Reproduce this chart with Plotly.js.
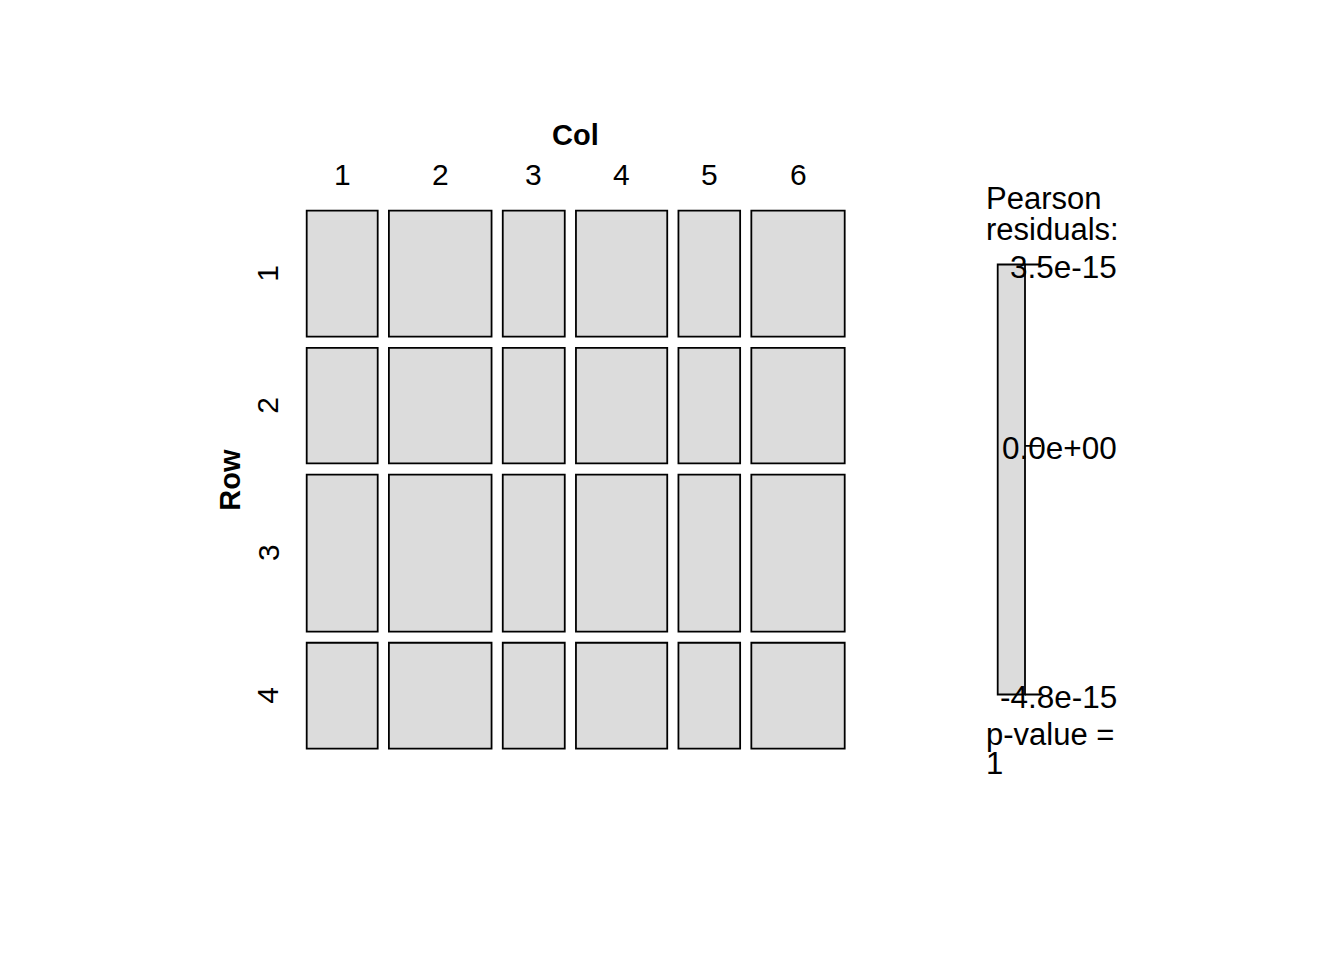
<!DOCTYPE html>
<html>
<head>
<meta charset="utf-8">
<script src="https://cdn.plot.ly/plotly-3.0.1.min.js"></script>
<style>html,body{margin:0;padding:0;background:#fff;}</style>
</head>
<body>
<div id="chart" style="width:1344px;height:960px;"></div>
<script>
// ---- data ----
const colLabels = ['1', '2', '3', '4', '5', '6'];
const rowLabels = ['1', '2', '3', '4'];
const colShare = [14.73, 21.30, 12.86, 18.94, 12.80, 19.37];   // % of total (column margin)
const rowShare = [24.97, 22.91, 31.11, 21.01];                 // % of total (row margin)
const residualMin = -4.8e-15;
const residualMax = 3.5e-15;
const legendTickValues = [3.5e-15, 0, -4.8e-15];
const legendTickText = ['3.5e-15', '0.0e+00', '-4.8e-15'];
const pValue = 1;

// ---- layout constants (pixels) ----
const W = 1344, H = 960;
const plotL = 306.7, plotR = 844.7, plotT = 210.7, plotB = 748.7;
const gapPx = 11.2, padPx = 8;
const legL = 997.7, legR = 1025, legT = 264.5, legB = 694.5;
const fontFam = 'Liberation Sans, Arial, Helvetica, sans-serif';
const cellFill = '#dcdcdc';
const lineW = 1.8;

const nC = colShare.length, nR = rowShare.length;
const sumC = colShare.reduce((a, b) => a + b, 0);
const sumR = rowShare.reduce((a, b) => a + b, 0);
const pxPerX = ((plotR - plotL) - (nC - 1) * gapPx) / sumC;
const pxPerY = ((plotB - plotT) - (nR - 1) * gapPx) / sumR;
const gx = gapPx / pxPerX, gy = gapPx / pxPerY;
const totX = sumC + (nC - 1) * gx, totY = sumR + (nR - 1) * gy;
const padX = padPx / pxPerX, padY = padPx / pxPerY;

// positions
const colStart = [], rowStart = [];
let acc = 0;
colShare.forEach((v, j) => { colStart.push(acc + j * gx); acc += v; });
acc = 0;
rowShare.forEach((v, i) => { rowStart.push(acc + i * gy); acc += v; });

const shapes = [];
for (let i = 0; i < nR; i++) {
  for (let j = 0; j < nC; j++) {
    shapes.push({
      type: 'rect', xref: 'x', yref: 'y', layer: 'above',
      x0: colStart[j], x1: colStart[j] + colShare[j],
      y0: rowStart[i], y1: rowStart[i] + rowShare[i],
      fillcolor: cellFill, line: { color: '#000', width: lineW }
    });
  }
}

// legend axis mapping
const legPadPx = 10;
const resSpan = residualMax - residualMin;
const resPerPx = resSpan / (legB - legT);
const y2Range = [residualMin - legPadPx * resPerPx, residualMax + legPadPx * resPerPx];
const legW = legR - legL;
const x2Lpx = legL - 8, x2Rpx = 1050;
const x2Range = [(x2Lpx - legL) / legW, (x2Rpx - legL) / legW];
const tickEnd = (1041 - legL) / legW;

shapes.push({
  type: 'rect', xref: 'x2', yref: 'y2', layer: 'above',
  x0: 0, x1: 1, y0: residualMin, y1: residualMax,
  fillcolor: cellFill, line: { color: '#000', width: lineW }
});
legendTickValues.forEach(v => {
  shapes.push({
    type: 'line', xref: 'x2', yref: 'y2', layer: 'above',
    x0: 1, x1: tickEnd, y0: v, y1: v,
    line: { color: '#000', width: lineW }
  });
});

const py = p => (H - p) / H;
const px = p => p / W;

const annotations = [];
colLabels.forEach((lab, j) => {
  annotations.push({
    text: lab, xref: 'x', yref: 'paper', x: colStart[j] + colShare[j] / 2, y: py(174),
    xanchor: 'center', yanchor: 'middle', showarrow: false, font: { size: 30, color: '#000' }
  });
});
rowLabels.forEach((lab, i) => {
  annotations.push({
    text: lab, xref: 'paper', yref: 'y', x: px(268), y: rowStart[i] + rowShare[i] / 2,
    xanchor: 'center', yanchor: 'middle', textangle: -90, showarrow: false, font: { size: 30, color: '#000' }
  });
});
annotations.push({
  text: '<b>Col</b>', xref: 'paper', yref: 'paper', x: px((plotL + plotR) / 2), y: py(135),
  xanchor: 'center', yanchor: 'middle', showarrow: false, font: { size: 29, color: '#000' }
});
annotations.push({
  text: '<b>Row</b>', xref: 'paper', yref: 'paper', x: px(230), y: py((plotT + plotB) / 2),
  xanchor: 'center', yanchor: 'middle', textangle: -90, showarrow: false, font: { size: 29, color: '#000' }
});
const legText = [['Pearson', 198.5], ['residuals:', 229.5], ['p-value =', 734], [String(pValue), 763]];
legText.forEach(([t, yy]) => {
  annotations.push({
    text: t, xref: 'paper', yref: 'paper', x: px(985), y: py(yy), borderpad: 0,
    xanchor: 'left', yanchor: 'middle', showarrow: false, font: { size: 31, color: '#000' }
  });
});
legendTickValues.forEach((v, k) => {
  annotations.push({
    text: legendTickText[k], xref: 'paper', yref: 'y2', x: px(1118), y: v, borderpad: 0, yshift: -2.5,
    xanchor: 'right', yanchor: 'middle', showarrow: false, font: { size: 31.5, color: '#000' }
  });
});

const hidden = { visible: false, showgrid: false, zeroline: false, fixedrange: true };
const layout = {
  width: W, height: H,
  margin: { l: 0, r: 0, t: 0, b: 0 },
  paper_bgcolor: '#fff', plot_bgcolor: 'rgba(0,0,0,0)',
  showlegend: false, hovermode: false,
  font: { family: fontFam, color: '#000' },
  xaxis: Object.assign({}, hidden, { domain: [px(plotL - padPx), px(plotR + padPx)], range: [-padX, totX + padX] }),
  yaxis: Object.assign({}, hidden, { domain: [py(plotB + padPx), py(plotT - padPx)], range: [totY + padY, -padY] }),
  xaxis2: Object.assign({}, hidden, { anchor: 'y2', domain: [px(x2Lpx), px(x2Rpx)], range: x2Range }),
  yaxis2: Object.assign({}, hidden, { anchor: 'x2', domain: [py(legB + legPadPx), py(legT - legPadPx)], range: y2Range }),
  shapes: shapes,
  annotations: annotations
};

const traces = [
  { type: 'scatter', x: [], y: [], xaxis: 'x', yaxis: 'y', hoverinfo: 'skip' },
  { type: 'scatter', x: [], y: [], xaxis: 'x2', yaxis: 'y2', hoverinfo: 'skip' }
];

Plotly.newPlot('chart', traces, layout, { displayModeBar: false, staticPlot: true });
</script>
</body>
</html>
